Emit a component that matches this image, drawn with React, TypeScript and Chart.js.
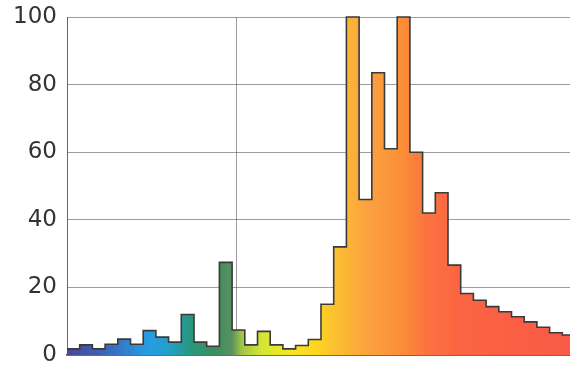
import React, { useEffect, useRef } from "react";
import { Chart, registerables } from "chart.js";

Chart.register(...registerables);

// ---- data ----
const xMin = 0;
const xMax = 3;
const binWidth = 0.075; // 40 bins across 0..3
const binValues = [
  1.8, 3, 1.8, 3.2, 4.7, 3.2, 7.2, 5.3, 3.8, 12,
  3.8, 2.6, 27.4, 7.4, 3, 7, 3, 1.8, 2.8, 4.6,
  15, 32, 100, 46, 83.5, 61, 100, 60, 42, 48,
  26.6, 18.2, 16.2, 14.3, 12.8, 11.3, 9.8, 8.2, 6.6, 5.9,
];
const yMin = 0;
const yMax = 100;
const yStep = 20;
const xTickValues = [0, 1, 2, 3];

// ---- style ----
const gradientStops: [number, string][] = [
  [0, "#4a469c"],
  [0.065, "#3f5fb4"],
  [0.124, "#2f86d2"],
  [0.161, "#279de2"],
  [0.203, "#22a0c6"],
  [0.242, "#27977f"],
  [0.291, "#3b8e5e"],
  [0.325, "#5a9060"],
  [0.344, "#a2c544"],
  [0.384, "#d4e634"],
  [0.439, "#f6e620"],
  [0.494, "#fdd420"],
  [0.526, "#fcc030"],
  [0.596, "#fba040"],
  [0.656, "#fa9038"],
  [0.705, "#fb7440"],
  [0.774, "#fb6442"],
  [1, "#f95a46"],
];

export default function App() {
  const canvasRef = useRef<HTMLCanvasElement | null>(null);

  useEffect(() => {
    const canvas = canvasRef.current;
    if (!canvas) return;

    const points = binValues.map((v, i) => ({ x: xMin + i * binWidth, y: v }));
    points.push({ x: xMin + binValues.length * binWidth, y: binValues[binValues.length - 1] });

    const gridColor = "rgba(60,60,60,0.5)";

    const chart = new Chart(canvas, {
      type: "line",
      data: {
        datasets: [
          {
            data: points,
            stepped: true,
            fill: "origin",
            borderColor: "#3a3a3a",
            borderWidth: 1.6,
            pointRadius: 0,
            clip: 4,
            backgroundColor: (ctx: any) => {
              const c = ctx.chart;
              const area = c.chartArea;
              if (!area) return "#f8a040";
              const g = c.ctx.createLinearGradient(area.left, 0, area.right, 0);
              gradientStops.forEach(([o, col]) => g.addColorStop(o, col));
              return g;
            },
          },
        ],
      },
      options: {
        animation: false,
        responsive: false,
        maintainAspectRatio: false,
        layout: { padding: { top: 17, left: 0, right: 0, bottom: 0 } },
        plugins: { legend: { display: false }, tooltip: { enabled: false } },
        scales: {
          x: {
            type: "linear",
            min: xMin,
            max: xMax,
            z: 1,
            afterBuildTicks: (scale: any) => {
              scale.ticks = xTickValues.map((v) => ({ value: v }));
            },
            afterFit: (scale: any) => {
              scale.height = 14;
              scale.paddingLeft = 0;
              scale.paddingRight = 0;
            },
            ticks: { display: false },
            grid: { color: gridColor, lineWidth: 1, drawTicks: false },
            border: { display: true, color: "#3a3a3a", width: 1.5 },
          },
          y: {
            type: "linear",
            min: yMin,
            max: yMax,
            z: 1,
            afterFit: (scale: any) => {
              scale.width = 67;
              scale.paddingTop = 0;
              scale.paddingBottom = 0;
            },
            ticks: {
              stepSize: yStep,
              padding: 10,
              color: "#333333",
              font: { family: "'DejaVu Sans', sans-serif", size: 23 },
            },
            grid: { color: gridColor, lineWidth: 1, drawTicks: false },
            border: { display: true, color: "rgba(60,60,60,0.55)", width: 1 },
          },
        },
      },
    });

    return () => chart.destroy();
  }, []);

  return (
    <div
      style={{
        position: "absolute",
        left: 0,
        top: 0,
        width: 570,
        height: 369,
        overflow: "hidden",
        background: "#ffffff",
      }}
    >
      <canvas ref={canvasRef} width={575} height={369} style={{ display: "block" }} />
    </div>
  );
}
